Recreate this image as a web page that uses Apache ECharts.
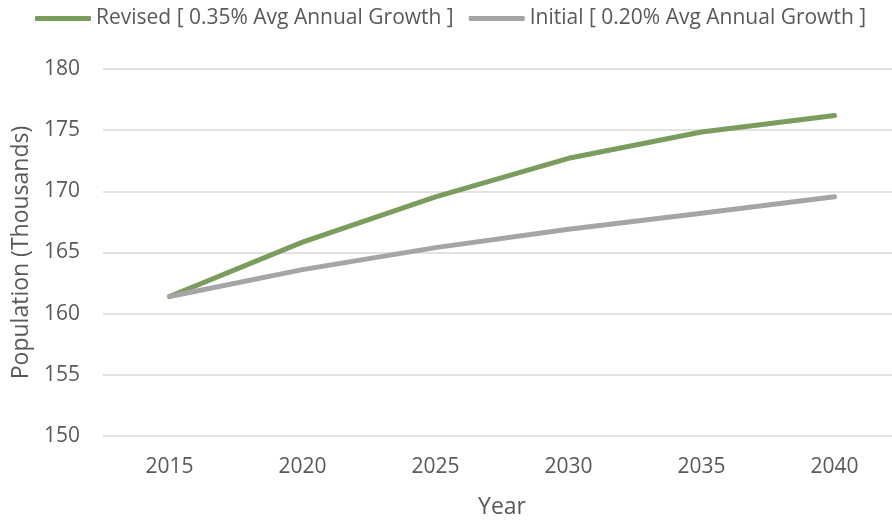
<!DOCTYPE html>
<html><head><meta charset="utf-8">
<script src="https://cdn.jsdelivr.net/npm/echarts@6/dist/echarts.min.js"></script>
<style>html,body{margin:0;padding:0;background:#fff}#c{width:892px;height:520px}</style>
</head><body><div id="c"></div>
<script>
const years = ['2015','2020','2025','2030','2035','2040'];
const revised = [161.4, 165.85, 169.55, 172.7, 174.85, 176.2];
const initial = [161.4, 163.6, 165.4, 166.9, 168.2, 169.55];
const seriesNames = ['Revised [ 0.35% Avg Annual Growth ]', 'Initial [ 0.20% Avg Annual Growth ]'];
const FONT = 'Open Sans';
const TXT = '#595959';
const chart = echarts.init(document.getElementById('c'), null, {renderer:'canvas'});
chart.setOption({
  animation:false,
  backgroundColor:'#fff',
  textStyle:{fontFamily:FONT},
  legend:{
    top:3, left:30,
    itemWidth:56, itemHeight:5, itemGap:15,
    icon:'roundRect',
    textStyle:{color:TXT, fontSize:21, fontFamily:FONT},
    data:seriesNames
  },
  grid:{left:103, top:69, width:798, height:367, containLabel:false, outerBoundsMode:'none'},
  xAxis:{
    type:'category', data:years, boundaryGap:true,
    name:'Year', nameLocation:'middle', nameGap:60,
    nameTextStyle:{color:TXT, fontSize:23, fontFamily:FONT},
    axisLine:{show:false}, axisTick:{show:false},
    axisLabel:{color:TXT, fontSize:21, fontFamily:FONT, margin:21}
  },
  yAxis:{
    type:'value', min:150, max:180, interval:5,
    name:'Population (Thousands)', nameLocation:'middle', nameGap:70,
    nameTextStyle:{color:TXT, fontSize:23, fontFamily:FONT},
    axisLine:{show:false}, axisTick:{show:false},
    axisLabel:{color:TXT, fontSize:21, fontFamily:FONT, margin:23},
    splitLine:{lineStyle:{color:'#D9D9D9', width:1.5}}
  },
  series:[
    {name:seriesNames[0], type:'line', data:revised, symbol:'none',
     lineStyle:{color:'#7A9D5D', width:5, cap:'round', join:'round'}, itemStyle:{color:'#7A9D5D'}},
    {name:seriesNames[1], type:'line', data:initial, symbol:'none',
     lineStyle:{color:'#A5A5A5', width:5, cap:'round', join:'round'}, itemStyle:{color:'#A5A5A5'}}
  ]
});
</script></body></html>
